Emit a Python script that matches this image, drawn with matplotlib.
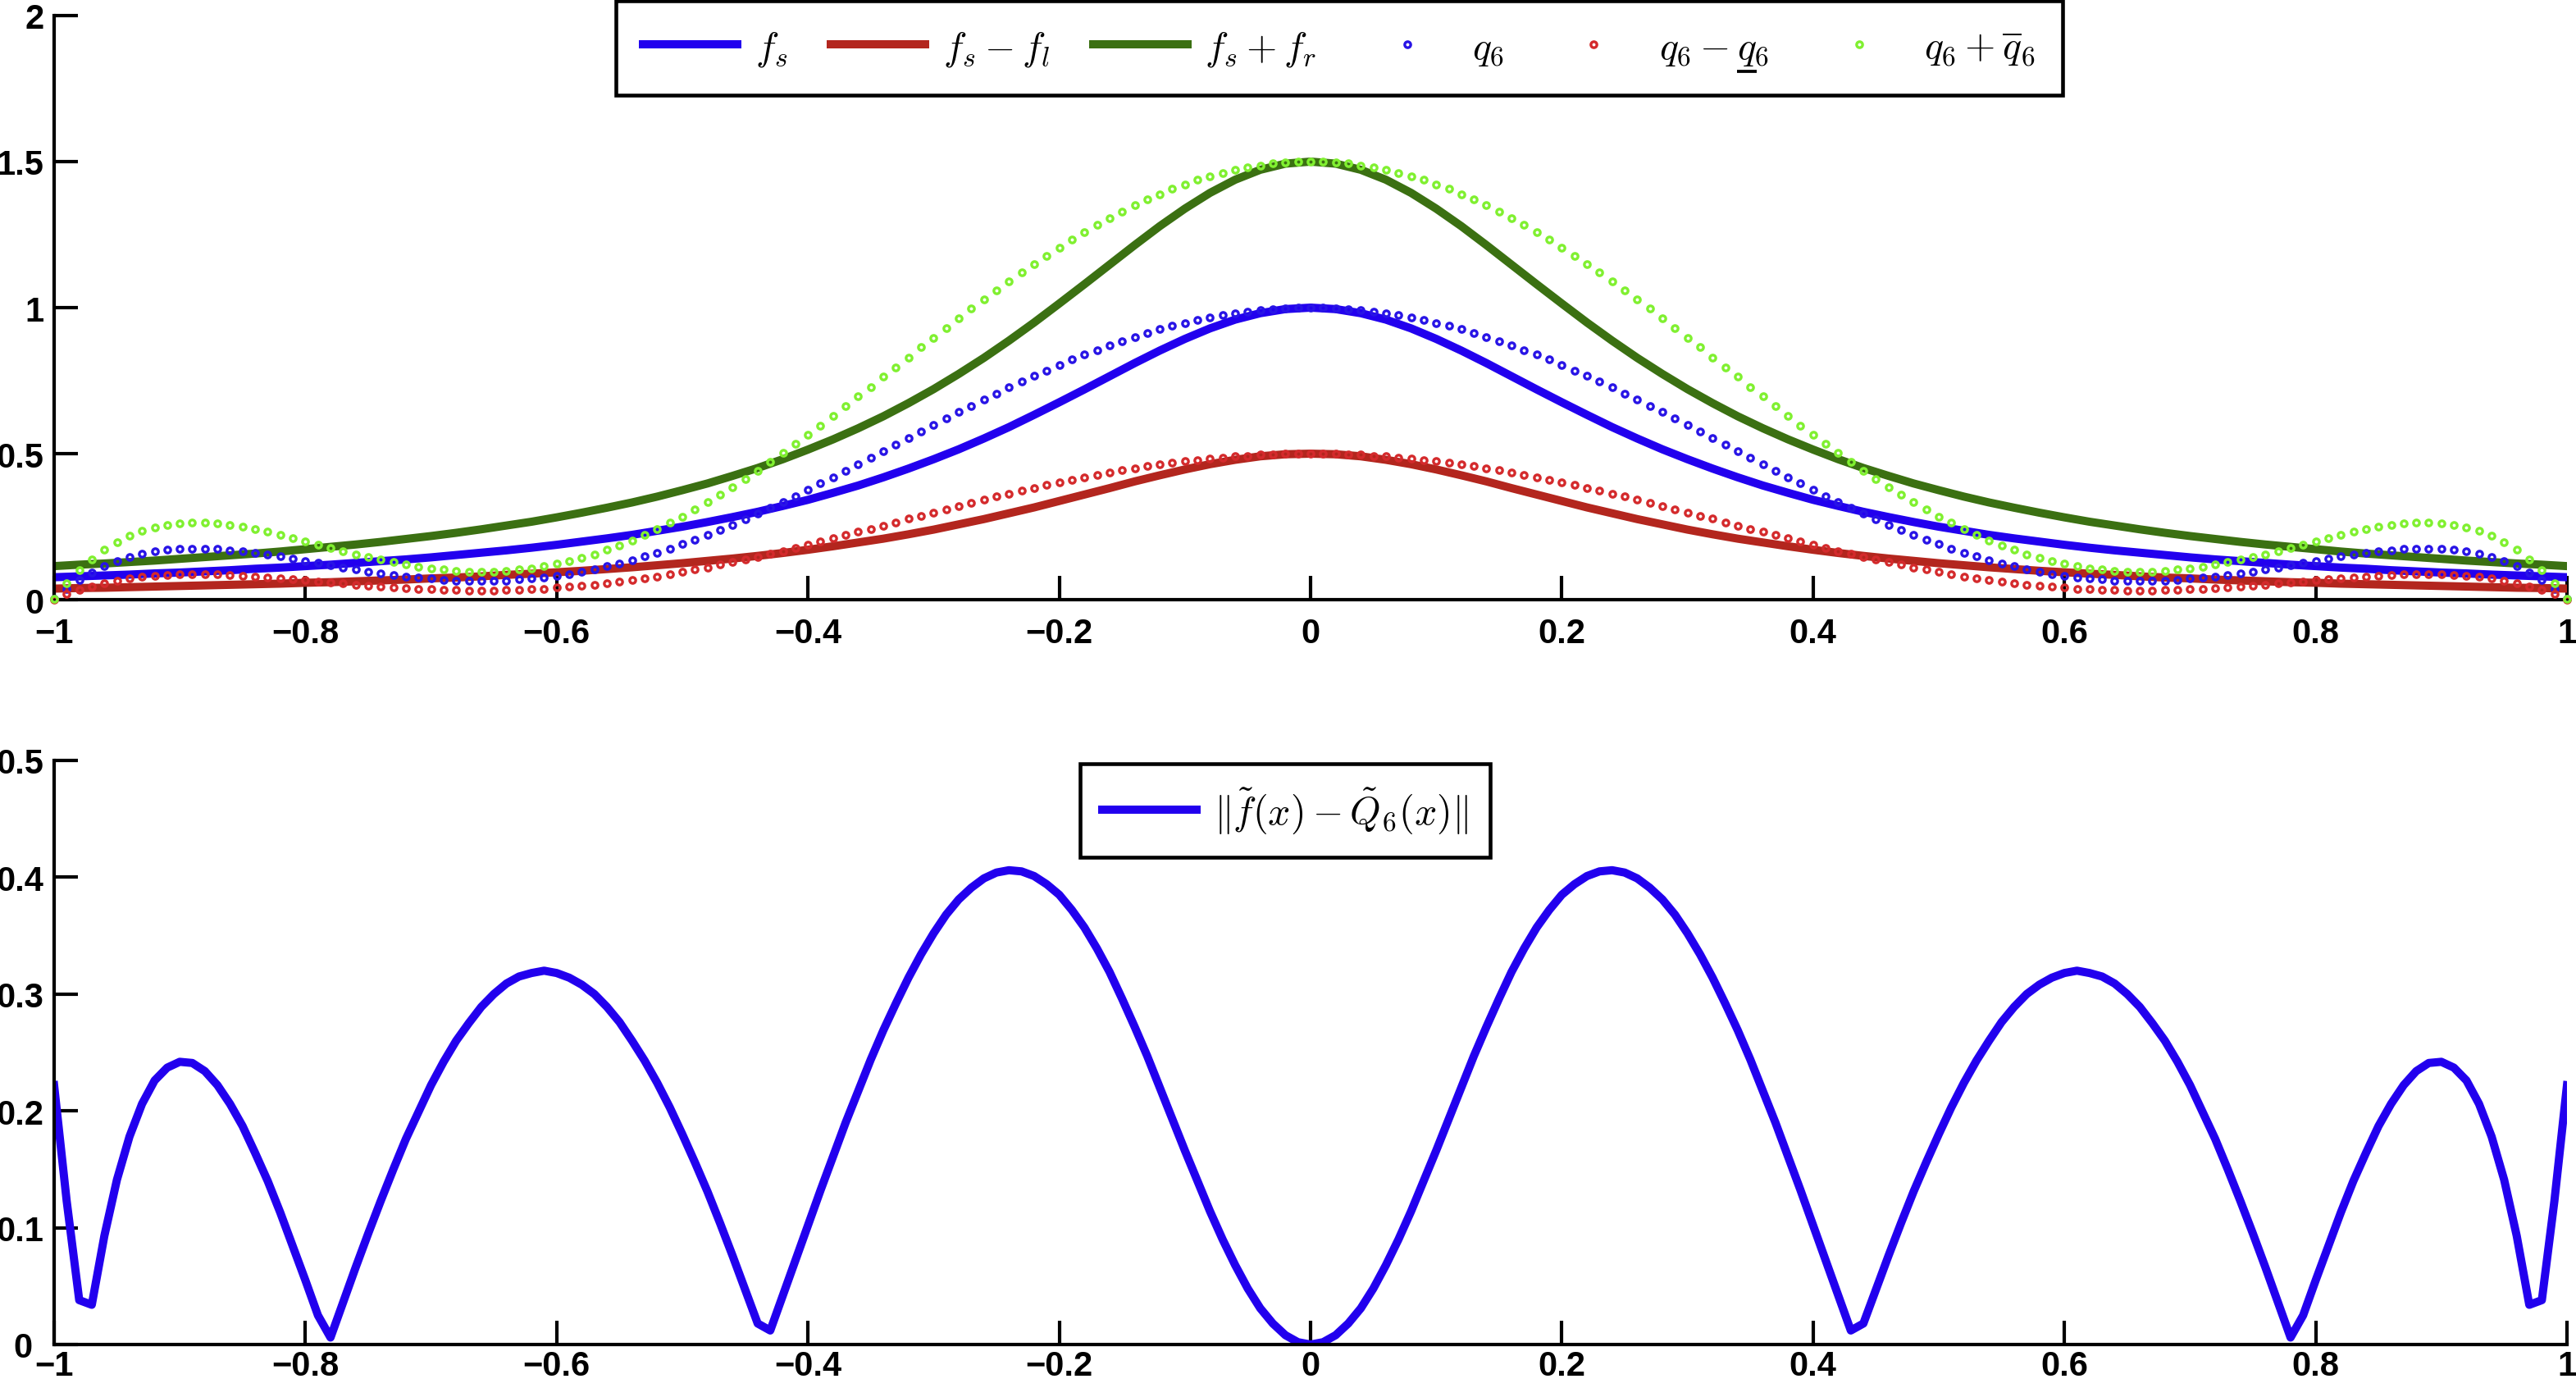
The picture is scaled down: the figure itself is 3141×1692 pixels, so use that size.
import numpy as np
import matplotlib
matplotlib.use('Agg')
import matplotlib.pyplot as plt
from matplotlib.lines import Line2D

# ---------------- data ----------------
x_tick_vals = [-1, -0.8, -0.6, -0.4, -0.2, 0, 0.2, 0.4, 0.6, 0.8, 1]
x_tick_labels = ['\u22121', '\u22120.8', '\u22120.6', '\u22120.4', '\u22120.2', '0',
                 '0.2', '0.4', '0.6', '0.8', '1']
y1_tick_vals = [0, 0.5, 1, 1.5, 2]
y1_tick_labels = ['0', '0.5', '1', '1.5', '2']
y2_tick_vals = [0, 0.1, 0.2, 0.3, 0.4, 0.5]
y2_tick_labels = ['0', '0.1', '0.2', '0.3', '0.4', '0.5']

# the second q in the 5th label gets an underline drawn below it
labels_top = [r'$f_s$', r'$f_s-f_l$', r'$f_s+f_r$', r'$q_6$',
              r'$q_6-q_6$', r'$q_6+\overline{q}_6$']
label_bottom = r'$\Vert\tilde{f}(x)-\tilde{Q}_6(x)\Vert$'

# x samples: lines every 0.02, dotted series and error every 0.01
x_line = np.linspace(-1, 1, 101)
x_dense = np.linspace(-1, 1, 201)

# f_s  (x = -1 ... 1, step 0.02)
fs = [0.077, 0.080, 0.083, 0.086, 0.090, 0.093, 0.097, 0.101, 0.106, 0.110,
      0.115, 0.120, 0.126, 0.132, 0.138, 0.145, 0.153, 0.161, 0.169, 0.178,
      0.188, 0.199, 0.210, 0.222, 0.236, 0.250, 0.266, 0.283, 0.301, 0.321,
      0.342, 0.366, 0.391, 0.419, 0.449, 0.481, 0.515, 0.552, 0.591, 0.633,
      0.676, 0.720, 0.765, 0.810, 0.853, 0.893, 0.929, 0.959, 0.981, 0.995,
      1.000, 0.995, 0.981, 0.959, 0.929, 0.893, 0.853, 0.810, 0.765, 0.720,
      0.676, 0.633, 0.591, 0.552, 0.515, 0.481, 0.449, 0.419, 0.391, 0.366,
      0.342, 0.321, 0.301, 0.283, 0.266, 0.250, 0.236, 0.222, 0.210, 0.199,
      0.188, 0.178, 0.169, 0.161, 0.153, 0.145, 0.138, 0.132, 0.126, 0.120,
      0.115, 0.110, 0.106, 0.101, 0.097, 0.093, 0.090, 0.086, 0.083, 0.080,
      0.077]

# f_s - f_l
fs_minus_fl = [0.038, 0.040, 0.041, 0.043, 0.045, 0.047, 0.049, 0.051, 0.053, 0.055,
               0.058, 0.060, 0.063, 0.066, 0.069, 0.073, 0.076, 0.080, 0.085, 0.089,
               0.094, 0.099, 0.105, 0.111, 0.118, 0.125, 0.133, 0.141, 0.150, 0.160,
               0.171, 0.183, 0.196, 0.209, 0.224, 0.240, 0.258, 0.276, 0.296, 0.316,
               0.338, 0.360, 0.382, 0.405, 0.426, 0.446, 0.464, 0.479, 0.491, 0.498,
               0.500, 0.498, 0.491, 0.479, 0.464, 0.446, 0.426, 0.405, 0.382, 0.360,
               0.338, 0.316, 0.296, 0.276, 0.258, 0.240, 0.224, 0.209, 0.196, 0.183,
               0.171, 0.160, 0.150, 0.141, 0.133, 0.125, 0.118, 0.111, 0.105, 0.099,
               0.094, 0.089, 0.085, 0.080, 0.076, 0.073, 0.069, 0.066, 0.063, 0.060,
               0.058, 0.055, 0.053, 0.051, 0.049, 0.047, 0.045, 0.043, 0.041, 0.040,
               0.038]

# f_s + f_r
fs_plus_fr = [0.115, 0.120, 0.124, 0.129, 0.134, 0.140, 0.146, 0.152, 0.158, 0.165,
              0.173, 0.181, 0.189, 0.198, 0.208, 0.218, 0.229, 0.241, 0.254, 0.267,
              0.282, 0.298, 0.315, 0.333, 0.353, 0.375, 0.398, 0.424, 0.451, 0.481,
              0.514, 0.549, 0.587, 0.628, 0.673, 0.721, 0.773, 0.828, 0.887, 0.949,
              1.014, 1.080, 1.147, 1.214, 1.279, 1.339, 1.393, 1.438, 1.472, 1.493,
              1.500, 1.493, 1.472, 1.438, 1.393, 1.339, 1.279, 1.214, 1.147, 1.080,
              1.014, 0.949, 0.887, 0.828, 0.773, 0.721, 0.673, 0.628, 0.587, 0.549,
              0.514, 0.481, 0.451, 0.424, 0.398, 0.375, 0.353, 0.333, 0.315, 0.298,
              0.282, 0.267, 0.254, 0.241, 0.229, 0.218, 0.208, 0.198, 0.189, 0.181,
              0.173, 0.165, 0.158, 0.152, 0.146, 0.140, 0.134, 0.129, 0.124, 0.120,
              0.115]

# q_6 (x = -1 ... 1, step 0.01)
q6_neg = [0.003, 0.037, 0.067, 0.093, 0.114, 0.131, 0.146, 0.157, 0.165, 0.171,
          0.174, 0.175, 0.175, 0.173, 0.170, 0.166, 0.160, 0.154, 0.148, 0.141,
          0.133, 0.126, 0.119, 0.111, 0.104, 0.097, 0.091, 0.085, 0.080, 0.075,
          0.072, 0.068, 0.066, 0.065, 0.064, 0.065, 0.066, 0.069, 0.072, 0.076,
          0.082, 0.088, 0.096, 0.104, 0.114, 0.124, 0.135, 0.148, 0.161, 0.175,
          0.190, 0.206, 0.222, 0.239, 0.257, 0.276, 0.295, 0.315, 0.335, 0.355,
          0.376, 0.398, 0.420, 0.442, 0.464, 0.486, 0.508, 0.531, 0.553, 0.576,
          0.598, 0.620, 0.642, 0.664, 0.685, 0.706, 0.727, 0.747, 0.766, 0.785,
          0.804, 0.822, 0.839, 0.855, 0.871, 0.886, 0.900, 0.914, 0.926, 0.938,
          0.948, 0.958, 0.967, 0.974, 0.981, 0.987, 0.992, 0.995, 0.998, 0.999]
q6_pos = [1.000, 0.999, 0.998, 0.995, 0.992, 0.987, 0.981, 0.974, 0.967, 0.958,
          0.948, 0.938, 0.926, 0.914, 0.900, 0.886, 0.871, 0.855, 0.839, 0.822,
          0.804, 0.785, 0.766, 0.747, 0.727, 0.706, 0.685, 0.664, 0.642, 0.620,
          0.598, 0.576, 0.553, 0.531, 0.508, 0.486, 0.464, 0.442, 0.420, 0.398,
          0.376, 0.355, 0.335, 0.315, 0.295, 0.276, 0.257, 0.239, 0.222, 0.206,
          0.190, 0.175, 0.161, 0.148, 0.135, 0.124, 0.114, 0.104, 0.096, 0.088,
          0.082, 0.076, 0.072, 0.069, 0.066, 0.065, 0.064, 0.065, 0.066, 0.068,
          0.072, 0.075, 0.080, 0.085, 0.091, 0.097, 0.104, 0.111, 0.119, 0.126,
          0.133, 0.141, 0.148, 0.154, 0.160, 0.166, 0.170, 0.173, 0.175, 0.175,
          0.174, 0.171, 0.165, 0.157, 0.146, 0.131, 0.114, 0.093, 0.067, 0.037,
          0.003]

# q_6 - lower q_6
q6_lo_neg = [0.001, 0.019, 0.034, 0.046, 0.057, 0.066, 0.073, 0.078, 0.082, 0.085,
             0.087, 0.088, 0.088, 0.087, 0.085, 0.083, 0.080, 0.077, 0.074, 0.070,
             0.067, 0.063, 0.059, 0.056, 0.052, 0.049, 0.046, 0.043, 0.040, 0.038,
             0.036, 0.034, 0.033, 0.032, 0.032, 0.032, 0.033, 0.034, 0.036, 0.038,
             0.041, 0.044, 0.048, 0.052, 0.057, 0.062, 0.068, 0.074, 0.080, 0.088,
             0.095, 0.103, 0.111, 0.120, 0.129, 0.138, 0.147, 0.157, 0.167, 0.178,
             0.188, 0.199, 0.210, 0.221, 0.232, 0.243, 0.254, 0.265, 0.277, 0.288,
             0.299, 0.310, 0.321, 0.332, 0.343, 0.353, 0.363, 0.373, 0.383, 0.393,
             0.402, 0.411, 0.419, 0.428, 0.436, 0.443, 0.450, 0.457, 0.463, 0.469,
             0.474, 0.479, 0.483, 0.487, 0.491, 0.493, 0.496, 0.498, 0.499, 0.500]
q6_lo_pos = [0.500, 0.500, 0.499, 0.498, 0.496, 0.493, 0.491, 0.487, 0.483, 0.479,
             0.474, 0.469, 0.463, 0.457, 0.450, 0.443, 0.436, 0.428, 0.419, 0.411,
             0.402, 0.393, 0.383, 0.373, 0.363, 0.353, 0.343, 0.332, 0.321, 0.310,
             0.299, 0.288, 0.277, 0.265, 0.254, 0.243, 0.232, 0.221, 0.210, 0.199,
             0.188, 0.178, 0.167, 0.157, 0.147, 0.138, 0.129, 0.120, 0.111, 0.103,
             0.095, 0.088, 0.080, 0.074, 0.068, 0.062, 0.057, 0.052, 0.048, 0.044,
             0.041, 0.038, 0.036, 0.034, 0.033, 0.032, 0.032, 0.032, 0.033, 0.034,
             0.036, 0.038, 0.040, 0.043, 0.046, 0.049, 0.052, 0.056, 0.059, 0.063,
             0.067, 0.070, 0.074, 0.077, 0.080, 0.083, 0.085, 0.087, 0.088, 0.088,
             0.087, 0.085, 0.082, 0.078, 0.073, 0.066, 0.057, 0.046, 0.034, 0.019,
             0.001]

# q_6 + upper q_6
q6_up_neg = [0.004, 0.056, 0.101, 0.139, 0.171, 0.197, 0.218, 0.235, 0.247, 0.256,
             0.261, 0.263, 0.263, 0.260, 0.255, 0.249, 0.241, 0.232, 0.222, 0.211,
             0.200, 0.189, 0.178, 0.167, 0.156, 0.146, 0.137, 0.128, 0.120, 0.113,
             0.107, 0.103, 0.099, 0.097, 0.096, 0.097, 0.099, 0.103, 0.108, 0.115,
             0.123, 0.132, 0.144, 0.156, 0.171, 0.186, 0.203, 0.222, 0.241, 0.263,
             0.285, 0.308, 0.333, 0.359, 0.386, 0.414, 0.442, 0.472, 0.502, 0.533,
             0.565, 0.597, 0.629, 0.662, 0.696, 0.729, 0.763, 0.796, 0.830, 0.864,
             0.897, 0.930, 0.963, 0.996, 1.028, 1.059, 1.090, 1.120, 1.150, 1.178,
             1.206, 1.233, 1.258, 1.283, 1.307, 1.329, 1.350, 1.370, 1.389, 1.406,
             1.422, 1.437, 1.450, 1.462, 1.472, 1.480, 1.487, 1.493, 1.497, 1.499]
q6_up_pos = [1.500, 1.499, 1.497, 1.493, 1.487, 1.480, 1.472, 1.462, 1.450, 1.437,
             1.422, 1.406, 1.389, 1.370, 1.350, 1.329, 1.307, 1.283, 1.258, 1.233,
             1.206, 1.178, 1.150, 1.120, 1.090, 1.059, 1.028, 0.996, 0.963, 0.930,
             0.897, 0.864, 0.830, 0.796, 0.763, 0.729, 0.696, 0.662, 0.629, 0.597,
             0.565, 0.533, 0.502, 0.472, 0.442, 0.414, 0.386, 0.359, 0.333, 0.308,
             0.285, 0.263, 0.241, 0.222, 0.203, 0.186, 0.171, 0.156, 0.144, 0.132,
             0.123, 0.115, 0.108, 0.103, 0.099, 0.097, 0.096, 0.097, 0.099, 0.103,
             0.107, 0.113, 0.120, 0.128, 0.137, 0.146, 0.156, 0.167, 0.178, 0.189,
             0.200, 0.211, 0.222, 0.232, 0.241, 0.249, 0.255, 0.260, 0.263, 0.263,
             0.261, 0.256, 0.247, 0.235, 0.218, 0.197, 0.171, 0.139, 0.101, 0.056,
             0.004]

# error norm (x = -1 ... 1, step 0.01)
err_neg = [0.222, 0.123, 0.038, 0.034, 0.093, 0.141, 0.178, 0.206, 0.226, 0.237,
           0.242, 0.241, 0.234, 0.222, 0.206, 0.187, 0.164, 0.140, 0.113, 0.084,
           0.055, 0.025, 0.006, 0.036, 0.066, 0.095, 0.123, 0.150, 0.176, 0.199,
           0.222, 0.242, 0.260, 0.275, 0.289, 0.300, 0.309, 0.315, 0.318, 0.320,
           0.318, 0.314, 0.308, 0.300, 0.289, 0.276, 0.260, 0.243, 0.224, 0.203,
           0.180, 0.156, 0.131, 0.104, 0.076, 0.047, 0.018, 0.012, 0.042, 0.072,
           0.102, 0.132, 0.161, 0.190, 0.217, 0.244, 0.269, 0.292, 0.314, 0.334,
           0.352, 0.368, 0.381, 0.391, 0.399, 0.404, 0.406, 0.405, 0.401, 0.394,
           0.385, 0.372, 0.357, 0.339, 0.319, 0.296, 0.272, 0.247, 0.220, 0.193,
           0.166, 0.140, 0.114, 0.090, 0.068, 0.048, 0.031, 0.018, 0.008, 0.002]
err_pos = [0.000, 0.002, 0.008, 0.018, 0.031, 0.048, 0.068, 0.090, 0.114, 0.140,
           0.166, 0.193, 0.220, 0.247, 0.272, 0.296, 0.319, 0.339, 0.357, 0.372,
           0.385, 0.394, 0.401, 0.405, 0.406, 0.404, 0.399, 0.391, 0.381, 0.368,
           0.352, 0.334, 0.314, 0.292, 0.269, 0.244, 0.217, 0.190, 0.161, 0.132,
           0.102, 0.072, 0.042, 0.012, 0.018, 0.047, 0.076, 0.104, 0.131, 0.156,
           0.180, 0.203, 0.224, 0.243, 0.260, 0.276, 0.289, 0.300, 0.308, 0.314,
           0.318, 0.320, 0.318, 0.315, 0.309, 0.300, 0.289, 0.275, 0.260, 0.242,
           0.222, 0.199, 0.176, 0.150, 0.123, 0.095, 0.066, 0.036, 0.006, 0.025,
           0.055, 0.084, 0.113, 0.140, 0.164, 0.187, 0.206, 0.222, 0.234, 0.241,
           0.242, 0.237, 0.226, 0.206, 0.178, 0.141, 0.093, 0.034, 0.038, 0.123,
           0.222]

q6 = q6_neg + q6_pos
q6_lo = q6_lo_neg + q6_lo_pos
q6_up = q6_up_neg + q6_up_pos
err = err_neg + err_pos

# ---------------- style ----------------
plt.rcParams['font.family'] = ['Liberation Sans', 'DejaVu Sans']
plt.rcParams['font.weight'] = 'bold'
plt.rcParams['mathtext.fontset'] = 'cm'

c_blue_line = '#2200EE'
c_red_line = '#B3261E'
c_green_line = '#3B7012'
c_blue_dot = '#2814E6'
c_red_dot = '#D42A2C'
c_green_dot = '#80F030'

LW = 2.4
MS = 1.75
MEW = 0.8
LEG_FS = 11.5
TICK_FS = 10

fig = plt.figure(figsize=(10.47, 5.6433), dpi=300)
ax1 = fig.add_axes([0.0210, 0.5676, 0.9755, 0.4206])
ax2 = fig.add_axes([0.0210, 0.0313, 0.9755, 0.4206])


def style_axes(ax, yvals, ylabels, ylim, xpad):
    ax.set_xlim(-1, 1)
    ax.set_ylim(*ylim)
    for s in ('top', 'right'):
        ax.spines[s].set_visible(False)
    for s in ('left', 'bottom'):
        ax.spines[s].set_linewidth(1.0)
    ax.set_xticks(x_tick_vals)
    ax.set_xticklabels(x_tick_labels)
    ax.set_yticks(yvals)
    ax.set_yticklabels(ylabels)
    ax.tick_params(axis='both', direction='in', length=7, width=1.0,
                   labelsize=TICK_FS, colors='black')
    ax.tick_params(axis='x', pad=xpad)
    ax.tick_params(axis='y', pad=3)
    for lab in ax.get_xticklabels() + ax.get_yticklabels():
        lab.set_fontweight('bold')


style_axes(ax1, y1_tick_vals, y1_tick_labels, (0, 2), 5)
style_axes(ax2, y2_tick_vals, y2_tick_labels, (0, 0.5), 1.5)
# keep the bottom-left "0" clear of the "-1" label below it
ax2.yaxis.get_major_ticks()[0].set_pad(6.3)

# top panel
h1, = ax1.plot(x_line, fs, color=c_blue_line, lw=LW)
h2, = ax1.plot(x_line, fs_minus_fl, color=c_red_line, lw=LW)
h3, = ax1.plot(x_line, fs_plus_fr, color=c_green_line, lw=LW)
h4, = ax1.plot(x_dense, q6, ls='none', marker='o', ms=MS, mew=MEW,
               mfc='none', mec=c_blue_dot, clip_on=False, zorder=4)
h5, = ax1.plot(x_dense, q6_lo, ls='none', marker='o', ms=MS, mew=MEW,
               mfc='none', mec=c_red_dot, clip_on=False, zorder=4)
h6, = ax1.plot(x_dense, q6_up, ls='none', marker='o', ms=MS, mew=MEW,
               mfc='none', mec=c_green_dot, clip_on=False, zorder=4)

leg_kw = dict(frameon=True, fancybox=False, edgecolor='black', framealpha=1,
              fontsize=LEG_FS, handlelength=2.4, handletextpad=0.45,
              borderaxespad=0, numpoints=1)
leg1 = ax1.legend([h1, h2, h3, h4, h5, h6], labels_top, loc='upper center',
                  bbox_to_anchor=(0.5114, 1.0253), ncol=6, columnspacing=1.1,
                  borderpad=0.7, **leg_kw)
leg1.get_frame().set_linewidth(1.1)

# bottom panel
g1, = ax2.plot(x_dense, err, color=c_blue_line, lw=LW)
leg2 = ax2.legend([g1], [label_bottom], loc='upper center',
                  bbox_to_anchor=(0.4899, 0.9944), borderpad=0.55, **leg_kw)
leg2.get_frame().set_linewidth(1.1)

# underline below the second q of "q6 - q6" (lower bound symbol)
fig.canvas.draw()
renderer = fig.canvas.get_renderer()
W, H = fig.bbox.width, fig.bbox.height
bb = leg1.get_texts()[4].get_window_extent(renderer)
tmp = fig.text(0, 0, r'$q_6$', fontsize=LEG_FS)
w_q6 = tmp.get_window_extent(renderer).width
tmp.set_text(r'$q$')
w_q = tmp.get_window_extent(renderer).width
tmp.remove()
ux0 = bb.x1 - w_q6
ux1 = ux0 + w_q
uy = bb.y0 - 5
fig.add_artist(Line2D([ux0 / W, ux1 / W], [uy / H, uy / H],
                      transform=fig.transFigure, color='black', lw=0.9,
                      solid_capstyle='butt', zorder=10))

fig.savefig('out.png', dpi=300)
